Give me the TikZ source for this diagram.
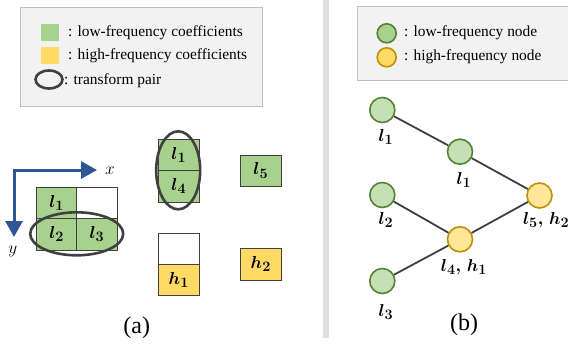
\documentclass[tikz,border=0pt]{standalone}
\usepackage{fontspec}
\setmainfont{Liberation Serif}
\usepackage{bm}
\usetikzlibrary{arrows.meta}
\definecolor{lgreen}{HTML}{A9D18E}
\definecolor{lyellow}{HTML}{FFD966}
\definecolor{ngreen}{HTML}{C5E0B4}
\definecolor{nyellow}{HTML}{FFE699}
\definecolor{dgreen}{HTML}{548235}
\definecolor{dyellow}{HTML}{BF9000}
\definecolor{axblue}{HTML}{2F5597}
\definecolor{dgray}{HTML}{404040}
\definecolor{boxgray}{HTML}{F2F2F2}
\definecolor{boxline}{HTML}{BFBFBF}
\definecolor{divgray}{HTML}{E0E0E0}
\begin{document}
\begin{tikzpicture}[x=1pt,y=-1pt,
  legbox/.style={fill=boxgray,draw=boxline,line width=1pt},
  legtext/.style={anchor=west,inner sep=0pt,font=\fontsize{15.4}{18}\selectfont},
  cell/.style={draw=dgray,line width=0.7pt,minimum width=40.5pt,minimum height=31.3pt,inner sep=0pt,font=\fontsize{19}{22}\selectfont},
  gcell/.style={cell,fill=lgreen},
  ycell/.style={cell,fill=lyellow},
  wcell/.style={cell,fill=white},
  ring/.style={draw=dgray,line width=2.6pt},
  axis/.style={draw=axblue,line width=3pt,{Triangle[length=16pt,width=17pt]}-{Triangle[length=16pt,width=17pt]}},
  lnode/.style={circle,draw=dgreen,fill=ngreen,line width=1.6pt,minimum size=25pt,inner sep=0pt},
  hnode/.style={circle,draw=dyellow,fill=nyellow,line width=1.6pt,minimum size=25pt,inner sep=0pt},
  link/.style={draw=dgray,line width=1.8pt},
  lab/.style={inner sep=0pt,font=\fontsize{19}{22}\selectfont},
  captext/.style={inner sep=0pt,font=\fontsize{24}{28}\selectfont}]
\clip (0,0) rectangle (568,349);
\fill[white] (0,0) rectangle (568,349);
% divider
\fill[divgray] (322.7,0) rectangle (329.3,338);
% ---------- (a) legend ----------
\draw[legbox] (20.7,7.3) rectangle (262.7,106.7);
\fill[lgreen] (41,24) rectangle (59,41);
\fill[lyellow] (41,47) rectangle (59,63.5);
\draw[ring] (49,79.5) ellipse [x radius=13.5pt,y radius=9pt];
\node[legtext] (ta1) at (68,33) {: low-frequency coefficients};
\node[legtext] (ta2) at (68,56) {: high-frequency coefficients};
\node[legtext] (ta3) at (64,80.5) {: transform pair};
% ---------- (a) axes ----------
\coordinate (X) at (97,170);
\coordinate (O) at (14,170);
\coordinate (Y) at (14,237);
\draw[axis] (X) -- (O) -- (Y);
\node[lab] (xl) at (110,170.5) {$x$};
\node[lab] (yl) at (12.7,251.5) {$y$};
% ---------- (a) grid ----------
\node[gcell] (c11) at (56.7,203) {$\bm{l_1}$};
\node[wcell] (c12) at (96.9,203) {};
\node[gcell] (c21) at (56.7,234.3) {$\bm{l_2}$};
\node[gcell] (c22) at (96.9,234.3) {$\bm{l_3}$};
\draw[ring] (76.7,233.8) ellipse [x radius=46.5pt,y radius=21.5pt];
\node[gcell] (m1) at (178.8,155) {$\bm{l_1}$};
\node[gcell] (m4) at (178.8,186.3) {$\bm{l_4}$};
\draw[ring] (178.2,170.3) ellipse [x radius=22pt,y radius=39pt];
\node[wcell] (hw) at (178.8,248.5) {};
\node[ycell] (h1) at (178.8,279.8) {$\bm{h_1}$};
\node[gcell] (l5) at (260.8,170.5) {$\bm{l_5}$};
\node[ycell] (h2) at (260.8,264.2) {$\bm{h_2}$};
\node[captext] (capa) at (136.7,328) {(a)};
% ---------- (b) legend ----------
\draw[legbox] (357.3,6.7) rectangle (580,80);
\node[circle,draw=dgreen,fill=lgreen,line width=1.6pt,minimum size=19pt,inner sep=0pt] (lg1) at (386.7,33.3) {};
\node[circle,draw=dyellow,fill=lyellow,line width=1.6pt,minimum size=19pt,inner sep=0pt] (lg2) at (386.7,57.3) {};
\node[legtext] (tb1) at (404,33) {: low-frequency node};
\node[legtext] (tb2) at (404,57) {: high-frequency node};
% ---------- (b) graph ----------
\node[lnode] (n1) at (382.3,110) {};
\node[lnode] (n2) at (460,151.7) {};
\node[lnode] (n3) at (382.3,195) {};
\node[hnode] (n4) at (460,239.3) {};
\node[lnode] (n5) at (382.3,281) {};
\node[hnode] (n6) at (539.5,195.5) {};
\draw[link] (n1) -- (n2);
\draw[link] (n2) -- (n6);
\draw[link] (n3) -- (n4);
\draw[link] (n5) -- (n4);
\draw[link] (n4) -- (n6);
\node[lab] (b1) at (386,137) {$\bm{l_1}$};
\node[lab] (b2) at (464,180) {$\bm{l_1}$};
\node[lab] (b3) at (386,220) {$\bm{l_2}$};
\node[lab] (b4) at (464,266.7) {$\bm{l_4,\,h_1}$};
\node[lab] (b5) at (386,311.7) {$\bm{l_3}$};
\node[lab,anchor=west] (b6) at (523,220) {$\bm{l_5,\,h_2}$};
\node[captext] (capb) at (464,325) {(b)};
\end{tikzpicture}
\end{document}
